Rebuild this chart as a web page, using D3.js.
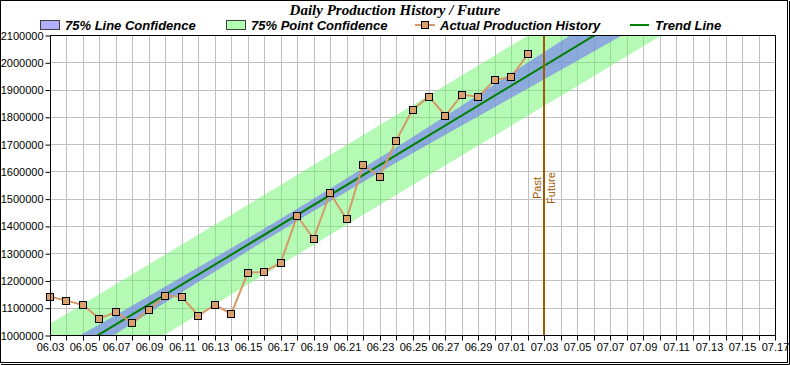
<!DOCTYPE html>
<html><head><meta charset="utf-8">
<script src="https://cdn.jsdelivr.net/npm/d3@7"></script>
<style>body{margin:0;background:#fff}svg{display:block}</style>
</head><body>
<svg id="c" width="790" height="365"></svg>
<script>
// ---- data ----
const dates = ['06.03','06.04','06.05','06.06','06.07','06.08','06.09','06.10','06.11','06.12',
  '06.13','06.14','06.15','06.16','06.17','06.18','06.19','06.20','06.21','06.22',
  '06.23','06.24','06.25','06.26','06.27','06.28','06.29','06.30','07.01','07.02'];
const production = [1140000,1126000,1110000,1060000,1085000,1044000,1093000,1144000,1140000,1071000,
  1110000,1078000,1228000,1232000,1265000,1437000,1353000,1520000,1424000,1625000,
  1580000,1712000,1826000,1874000,1804000,1881000,1874000,1936000,1946000,2031000];
const trendDates = ['06.03','07.17'];
const trendValues = [893000, 2498600];
const bandDates = ['06.03','06.10','06.17','06.24','07.01','07.08','07.15','07.17'];
const lineConfHalf = [43000,29500,22500,28000,45000,62000,80000,85000];
const pointConfHalf = [148000,147000,146000,146000,147000,148000,150000,151000];
const yTicks = [1000000,1100000,1200000,1300000,1400000,1500000,1600000,1700000,1800000,1900000,2000000,2100000];
const dividerDate = '07.03';
const xStart = '06.03', xEnd = '07.17';
const legendLabels = ['75% Line Confidence','75% Point Confidence','Actual Production History','Trend Line'];
const titleText = 'Daily Production History / Future';

// ---- setup ----
const parse = s => { const [m,d] = s.split('.').map(Number); return new Date(2009, m-1, d); };
const svg = d3.select('#c');
const L = 50, R = 775, T = 35, B = 335;
const x = d3.scaleTime().domain([parse(xStart), parse(xEnd)]).range([L, R]);
const y = d3.scaleLinear().domain([1000000, 2100000]).range([B, T]);

svg.append('rect').attr('x',0).attr('y',0).attr('width',790).attr('height',365).attr('fill','#fff');

svg.append('defs').append('clipPath').attr('id','pc')
  .append('rect').attr('x',L).attr('y',T).attr('width',R-L).attr('height',B-T);

const days = d3.timeDay.range(parse(xStart), d3.timeDay.offset(parse(xEnd),1));

// grid
const grid = svg.append('g').attr('stroke','#c0c0c0').attr('stroke-width',1);
days.forEach(d => {
  const px = Math.round(x(d)) + 0.5;
  grid.append('line').attr('x1',px).attr('x2',px).attr('y1',T).attr('y2',B);
});
yTicks.forEach(v => {
  const py = Math.round(y(v)) + 0.5;
  grid.append('line').attr('x1',L).attr('x2',R).attr('y1',py).attr('y2',py);
});

// trend helper via scale of trend values
const trendScale = d3.scaleTime().domain(trendDates.map(parse)).range(trendValues);
const plot = svg.append('g').attr('clip-path','url(#pc)');

const bandPts = bandDates.map((s,i)=>({d:parse(s), c:trendScale(parse(s)), l:lineConfHalf[i], p:pointConfHalf[i]}));
const areaP = d3.area().curve(d3.curveMonotoneX).x(d=>x(d.d)).y0(d=>y(d.c-d.p)).y1(d=>y(d.c+d.p));
const areaL = d3.area().curve(d3.curveMonotoneX).x(d=>x(d.d)).y0(d=>y(d.c-d.l)).y1(d=>y(d.c+d.l));
plot.append('path').attr('d',areaP(bandPts)).attr('fill','rgb(105,245,105)').attr('fill-opacity',0.5);
plot.append('path').attr('d',areaL(bandPts)).attr('fill','rgb(113,117,247)').attr('fill-opacity',0.6);

// trend line
plot.append('path').attr('d', d3.line().x(d=>x(d.d)).y(d=>y(d.v))(trendDates.map((s,i)=>({d:parse(s),v:trendValues[i]}))))
  .attr('stroke','#008000').attr('stroke-width',2).attr('fill','none');

// divider
const dx = Math.round(x(parse(dividerDate)));
svg.append('line').attr('x1',dx).attr('x2',dx).attr('y1',T).attr('y2',B)
  .attr('stroke','#a05a00').attr('stroke-width',2);
svg.append('text').attr('transform',`translate(${dx-3},188) rotate(-90)`).attr('text-anchor','middle')
  .attr('font-family','Liberation Sans, Arial, sans-serif').attr('font-size',11).attr('fill','#a05a00').text('Past');
svg.append('text').attr('transform',`translate(${dx+11},188) rotate(-90)`).attr('text-anchor','middle')
  .attr('font-family','Liberation Sans, Arial, sans-serif').attr('font-size',11).attr('fill','#a05a00').text('Future');

// production line
const pts = dates.map((s,i)=>({d:parse(s), v:production[i]}));
svg.append('path').attr('d', d3.line().x(d=>x(d.d)).y(d=>y(d.v))(pts))
  .attr('stroke','#d59a68').attr('stroke-width',2).attr('fill','none');
svg.append('g').selectAll('rect').data(pts).join('rect')
  .attr('x',d=>Math.round(x(d.d))-3.5).attr('y',d=>Math.round(y(d.v))-3.5)
  .attr('width',7).attr('height',7).attr('fill','#d9a06c').attr('stroke','#000').attr('stroke-width',1);

// frame
svg.append('path').attr('d',`M${L+0.5},${B+0.5}V${T+0.5}H${R+0.5}V${B+0.5}H${L+0.5}`)
  .attr('fill','none').attr('stroke','#000').attr('stroke-width',1);

// axes
const yAxis = d3.axisLeft(y).tickValues(yTicks).tickSize(5).tickPadding(2).tickFormat(d3.format('d'));
const ya = svg.append('g').attr('transform',`translate(${L+0.5},0.5)`).call(yAxis);
ya.select('.domain').remove();
ya.selectAll('text').attr('font-family','Liberation Sans, Arial, sans-serif').attr('font-size',11).attr('fill','#000');

const xAxis = d3.axisBottom(x).tickValues(days).tickSize(5).tickPadding(3)
  .tickFormat((d,i)=> i%2===0 ? d3.timeFormat('%m.%d')(d) : '');
const xa = svg.append('g').attr('transform',`translate(0.5,${B+0.5})`).call(xAxis);
xa.select('.domain').remove();
xa.selectAll('.tick line').attr('transform', null);
xa.selectAll('.tick').attr('transform', d=>`translate(${Math.round(x(d))},0)`);
xa.selectAll('text').attr('font-family','Liberation Sans, Arial, sans-serif').attr('font-size',11).attr('fill','#000');

// title
svg.append('text').attr('x',395).attr('y',15).attr('text-anchor','middle')
  .attr('font-family','Liberation Serif, Times New Roman, serif').attr('font-size',15)
  .attr('font-weight','bold').attr('font-style','italic').text(titleText);

// legend
const lf = {family:'Liberation Sans, Arial, sans-serif', size:13};
const lg = svg.append('g').attr('font-family',lf.family).attr('font-size',lf.size)
  .attr('font-weight','bold').attr('font-style','italic');
lg.append('rect').attr('x',40.5).attr('y',20.5).attr('width',19).attr('height',9).attr('fill','#b0b0ff').attr('stroke','#404040');
lg.append('text').attr('x',65).attr('y',30).text(legendLabels[0]);
lg.append('rect').attr('x',226.5).attr('y',20.5).attr('width',19).attr('height',9).attr('fill','#b0ffb0').attr('stroke','#404040');
lg.append('text').attr('x',251).attr('y',30).text(legendLabels[1]);
lg.append('line').attr('x1',415).attr('x2',435).attr('y1',25).attr('y2',25).attr('stroke','#d59a68').attr('stroke-width',2);
lg.append('rect').attr('x',421.5).attr('y',21.5).attr('width',7).attr('height',7).attr('fill','#d9a06c').attr('stroke','#000');
lg.append('text').attr('x',440).attr('y',30).text(legendLabels[2]);
lg.append('line').attr('x1',630).attr('x2',649).attr('y1',25).attr('y2',25).attr('stroke','#008000').attr('stroke-width',2);
lg.append('text').attr('x',655).attr('y',30).text(legendLabels[3]);

// outer border
svg.append('rect').attr('x',0.5).attr('y',0.5).attr('width',787).attr('height',362).attr('fill','none').attr('stroke','#000');
svg.append('path').attr('d','M1,364.5H789.5V1').attr('fill','none').attr('stroke','#000').attr('stroke-width',1);
</script>
</body></html>
